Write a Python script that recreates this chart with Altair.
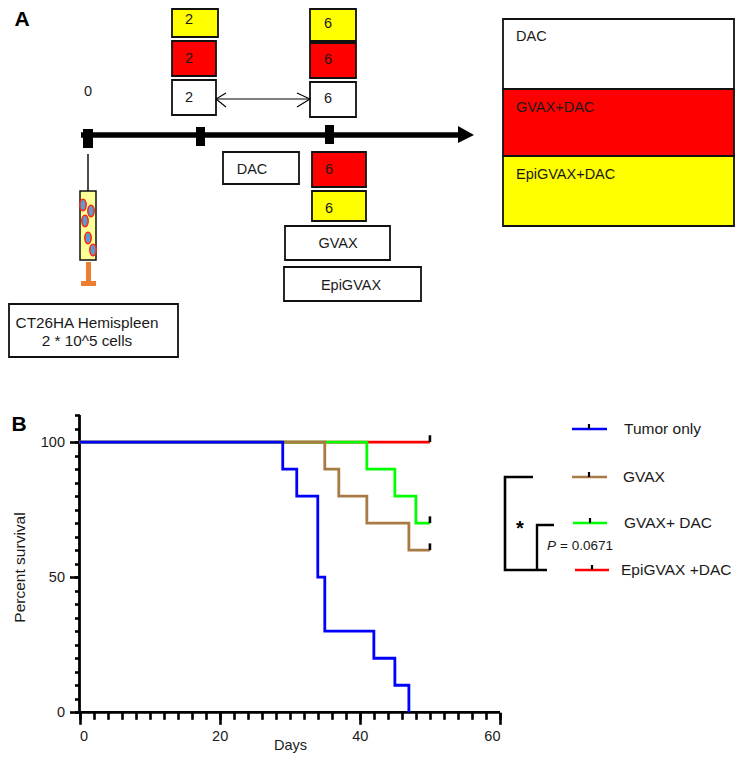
import altair as alt
import pandas as pd

# ---------- Panel B data ----------
tumor_days = [0, 29, 31, 34, 35, 42, 45, 47]
tumor_surv = [100, 90, 80, 50, 30, 20, 10, 0]
gvax_days = [0, 35, 37, 41, 47, 50]
gvax_surv = [100, 90, 80, 70, 60, 60]
gd_days = [0, 41, 45, 48, 50]
gd_surv = [100, 90, 80, 70, 70]
epi_days = [0, 50]
epi_surv = [100, 100]
censor_surv = [100, 70, 60]
censor_top = [102.5, 72.5, 62.5]
x_major = [0, 20, 40, 60]
x_minor = list(range(0, 61, 2))
y_major = [0, 50, 100]
y_minor = list(range(0, 111, 5))
BLUE, BROWN, GREEN, RED = "#0000ff", "#a87a44", "#00ff00", "#ff0000"

# ---------- Panel A data (schematic units) ----------
box_x = [172, 172, 172, 310, 310, 310, 223, 312, 312, 285, 284, 9, 503, 503, 503]
box_x2 = [218, 216, 216, 356, 356, 356, 299, 366, 366, 390, 421, 178, 734, 734, 734]
box_y = [9, 41, 80, 9, 43, 82, 152, 152, 191, 226, 267, 304, 19, 89, 156]
box_y2 = [37, 76, 115, 41, 78, 117, 184, 187, 221, 260, 301, 357, 89, 156, 226]
box_fill = ["#ffff00", "#ff0000", "#ffffff", "#ffff00", "#ff0000", "#ffffff", "#ffffff",
            "#ff0000", "#ffff00", "#ffffff", "#ffffff", "#ffffff", "#ffffff", "#ff0000", "#ffff00"]
txt_c = ["2", "2", "2", "6", "6", "6", "0", "DAC", "6", "6", "GVAX", "EpiGVAX",
         "CT26HA Hemispleen", "2 * 10^5  cells"]
txt_c_x = [189, 189, 189, 328, 328, 328, 88, 252, 329, 329, 338, 351, 87, 87]
txt_c_y = [18, 57, 96, 22, 58, 97, 90, 168, 168, 207, 242, 284, 321, 339]
txt_l = ["DAC", "GVAX+DAC", "EpiGVAX+DAC"]
txt_l_x = [516, 516, 516]
txt_l_y = [35, 106, 173]
tick_x = [83, 196, 325]
tick_x2 = [93, 205, 334]
tick_y = [129, 127, 125]
tick_y2 = [148, 146, 144]
cell_x = [83, 91, 85, 88, 93]
cell_y = [205, 211, 221, 238, 250]
legend_names = ["Tumor only", "GVAX", "GVAX+ DAC", "EpiGVAX +DAC"]
legend_colors = [BLUE, BROWN, GREEN, RED]
legend_x = [572, 572, 573, 575]
legend_x2 = [607, 607, 607, 609]
legend_y = [429, 477, 523, 570]
legend_tick = [589, 589, 590, 592]
legend_text_x = [624, 623, 624, 621]
bracket_x = [533, 505, 505, 547]
bracket_y = [477, 477, 570, 570]
bracket2_x = [554, 537, 537]
bracket2_y = [525, 525, 570]

W, H = 727, 745
sx = alt.Scale(domain=[8, 735], range=[0, W])
sy = alt.Scale(domain=[8, 753], range=[0, H])
dx = alt.Scale(domain=[0, 60], range=[71.5, 492])
dy = alt.Scale(domain=[0, 110], range=[704.3, 407])
FONT = "Liberation Sans"
INK = "#1a1a1a"


def X(f="x"):
    return alt.X(f"{f}:Q", scale=sx, axis=None)


def Y(f="y"):
    return alt.Y(f"{f}:Q", scale=sy, axis=None)


def path(xs, ys, width, color="#000000", cap="butt"):
    d = pd.DataFrame({"x": xs, "y": ys, "o": range(len(xs))})
    return alt.Chart(d).mark_line(color=color, strokeWidth=width, strokeCap=cap, strokeJoin="miter", clip=False).encode(
        x=X(), y=Y(), order="o:Q")


layers = []

# boxes
boxes = pd.DataFrame({"x": box_x, "x2": box_x2, "y": box_y, "y2": box_y2, "f": box_fill})
layers.append(alt.Chart(boxes).mark_rect(stroke="#111111", strokeWidth=1.8).encode(
    x=X(), x2="x2:Q", y=Y(), y2="y2:Q", fill=alt.Fill("f:N", scale=None)))

# timeline
layers.append(path([81, 458], [135, 135], 5.5))
head = pd.DataFrame({"x": [458, 474], "y": [126, 135], "y2": [143, 135]})
layers.append(alt.Chart(head).mark_area(color="#000000").encode(x=X(), y=Y(), y2="y2:Q"))
ticks = pd.DataFrame({"x": tick_x, "x2": tick_x2, "y": tick_y, "y2": tick_y2})
layers.append(alt.Chart(ticks).mark_rect(color="#000000").encode(x=X(), x2="x2:Q", y=Y(), y2="y2:Q"))

# double arrow
layers.append(path([216, 310], [99, 99], 1.1))
layers.append(path([226, 216, 226], [93, 99, 107], 1.1))
layers.append(path([297, 310, 297], [93, 99, 107], 1.1))

# syringe
layers.append(path([88, 88], [154, 191], 1.4))
syr = pd.DataFrame({"x": [86, 81], "x2": [91, 96], "y": [262, 281], "y2": [282, 286]})
layers.append(alt.Chart(syr).mark_rect(color="#ed7d31").encode(x=X(), x2="x2:Q", y=Y(), y2="y2:Q"))
body = pd.DataFrame({"x": [80], "x2": [96], "y": [191], "y2": [260]})
layers.append(alt.Chart(body).mark_rect(fill="#ffff99", stroke="#111111", strokeWidth=1.5).encode(
    x=X(), x2="x2:Q", y=Y(), y2="y2:Q"))
cells = pd.DataFrame({"x": cell_x, "y": cell_y})
layers.append(alt.Chart(cells).mark_point(
    shape="M0,-1A0.55,1 0 1 1 0,1A0.55,1 0 1 1 0,-1Z", size=130, filled=False,
    fill="#5b9bd5", fillOpacity=1, stroke="#ff2a10", strokeWidth=1.6, opacity=1).encode(x=X(), y=Y()))

# schematic text
tc = pd.DataFrame({"x": txt_c_x, "y": txt_c_y, "t": txt_c, "s": [14.5] * 12 + [15.3] * 2})
layers.append(alt.Chart(tc).mark_text(font=FONT, color=INK, align="center", baseline="middle", dy=1.5).encode(
    x=X(), y=Y(), text="t:N", size=alt.Size("s:Q", scale=None)))
tl = pd.DataFrame({"x": txt_l_x, "y": txt_l_y, "t": txt_l})
layers.append(alt.Chart(tl).mark_text(font=FONT, fontSize=14.5, color=INK, align="left", baseline="middle", dy=1.5).encode(
    x=X(), y=Y(), text="t:N"))
pl = pd.DataFrame({"x": [22, 19], "y": [19.5, 424.5], "t": ["A", "B"]})
layers.append(alt.Chart(pl).mark_text(font=FONT, fontSize=21, fontWeight="bold", color="#000000", align="center",
                                       baseline="middle", clip=False).encode(x=X(), y=Y(), text="t:N"))

# legend of panel B
leg = pd.DataFrame({"x": legend_x, "x2": legend_x2, "y": legend_y, "c": legend_colors, "n": legend_names,
                    "tx": legend_text_x, "tk": legend_tick,
                    "ty": [v - 5 for v in legend_y]})
layers.append(alt.Chart(leg).mark_rule(strokeWidth=2.4).encode(
    x=X(), x2="x2:Q", y=Y(), color=alt.Color("c:N", scale=None)))
layers.append(alt.Chart(leg).mark_rule(strokeWidth=2.2, color="#000000").encode(x=X("tk"), y=Y("ty"), y2="y:Q"))
layers.append(alt.Chart(leg).mark_text(font=FONT, fontSize=15.5, color=INK, align="left", baseline="middle").encode(
    x=X("tx"), y=Y(), text="n:N"))

# brackets
layers.append(path(bracket_x, bracket_y, 2.6))
layers.append(path(bracket2_x, bracket2_y, 2.4))
star = pd.DataFrame({"x": [520], "y": [529], "t": ["*"]})
layers.append(alt.Chart(star).mark_text(font=FONT, fontSize=20, fontWeight="bold", color="#000000").encode(
    x=X(), y=Y(), text="t:N"))
p1 = pd.DataFrame({"x": [547], "y": [546], "t": ["P"]})
layers.append(alt.Chart(p1).mark_text(font=FONT, fontSize=13.5, fontStyle="italic", color=INK, align="left",
                                       baseline="middle").encode(x=X(), y=Y(), text="t:N"))
p2 = pd.DataFrame({"x": [560], "y": [546], "t": ["= 0.0671"]})
layers.append(alt.Chart(p2).mark_text(font=FONT, fontSize=13.5, color=INK, align="left", baseline="middle").encode(
    x=X(), y=Y(), text="t:N"))

# ---------- Panel B axes ----------
off_x = 704.3 - H
off_y = -71.5
ax_common = dict(domain=False, grid=False, labelFont=FONT, titleFont=FONT, labelColor=INK, titleColor=INK,
                 tickColor="#000000", tickWidth=2.6, labelFontSize=14.5, titleFontWeight="normal")
DX = alt.X("d:Q", scale=dx, axis=None)
DY = alt.Y("s:Q", scale=dy, axis=None)

base = pd.DataFrame({"d": [0, 60], "s": [0, 110]})
layers.append(alt.Chart(base).mark_line(opacity=0).encode(
    x=alt.X("d:Q", scale=dx, title="Days", axis=alt.Axis(values=x_major, orient="bottom", offset=off_x, tickSize=12,
                                                           labelPadding=5, titleX=282, titleY=33, titleFontSize=14.5,
                                                           titleBaseline="middle", format="d", **ax_common)),
    y=alt.Y("s:Q", scale=dy, title="Percent survival", axis=alt.Axis(values=y_major, orient="left", offset=off_y,
                                                                       tickSize=10, labelPadding=5, titleX=-60,
                                                                       titleY=559, titleFontSize=15.5,
                                                                       titleBaseline="middle", **ax_common))))
layers.append(alt.Chart(base).mark_line(opacity=0).encode(
    x=alt.X("d:Q", scale=dx, axis=alt.Axis(values=x_minor, orient="bottom", offset=off_x, tickSize=7, labels=False,
                                           title=None, domain=False, grid=False, tickColor="#000000", tickWidth=2.6)),
    y=alt.Y("s:Q", scale=dy, axis=alt.Axis(values=y_minor, orient="left", offset=off_y, tickSize=5, labels=False,
                                           title=None, domain=False, grid=False, tickColor="#000000", tickWidth=2.6))))

# axis lines
ax1 = pd.DataFrame({"d": [0, 60], "s": [0, 0]})
layers.append(alt.Chart(ax1).mark_line(color="#000000", strokeWidth=2.8).encode(x=DX, y=DY))
ax2 = pd.DataFrame({"d": [0, 0], "s": [0, 110]})
layers.append(alt.Chart(ax2).mark_line(color="#000000", strokeWidth=2.8).encode(x=DX, y=DY))

# curves
for days, surv, col in [(epi_days, epi_surv, RED), (gd_days, gd_surv, GREEN), (gvax_days, gvax_surv, BROWN),
                        (tumor_days, tumor_surv, BLUE)]:
    d = pd.DataFrame({"d": days, "s": surv})
    layers.append(alt.Chart(d).mark_line(color=col, strokeWidth=2.8, interpolate="step-after",
                                         strokeJoin="miter").encode(x=DX, y=DY))
cens = pd.DataFrame({"d": [50, 50, 50], "s": censor_surv, "s2": censor_top})
layers.append(alt.Chart(cens).mark_rule(color="#000000", strokeWidth=2.6).encode(x=DX, y=DY, y2="s2:Q"))

chart = alt.layer(*layers).resolve_scale(x="independent", y="independent").resolve_axis(
    x="independent", y="independent"
).properties(
    width=W, height=H, padding=0, autosize=alt.AutoSizeParams(type="none")
).configure_view(stroke=None)

chart.save("out.html", embed_options={"renderer": "svg", "actions": False})
